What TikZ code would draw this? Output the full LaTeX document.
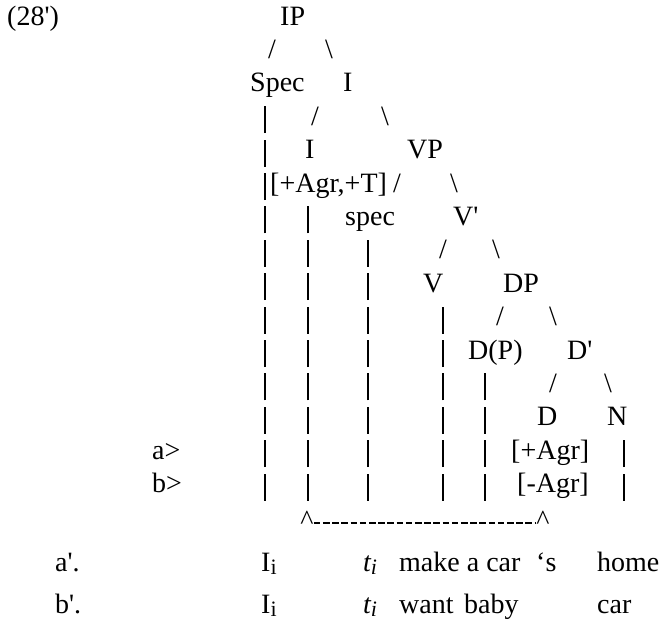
\documentclass[tikz,border=0pt]{standalone}
\usepackage{fontspec}
\setmainfont{Liberation Serif}
\usepackage{tikz}
\newcommand{\treefont}{\fontsize{28}{33}\selectfont}
\newcommand{\lsub}[1]{\raisebox{-3pt}{\fontsize{22}{22}\selectfont #1}}
\newcommand{\pipe}{\rule[-8pt]{1.5pt}{27pt}}
\tikzset{
  lbl/.style={anchor=base west,inner sep=0pt,font=\treefont},
  glyph/.style={anchor=base,inner sep=0pt,font=\treefont},
  link/.style={line width=1.4pt,dash pattern=on 6.6pt off 2.6pt}
}

\begin{document}
\begin{tikzpicture}[x=1pt,y=-1pt]
  \useasboundingbox (0,0) rectangle (662,621);
  % tree labels, one row every 33.4pt
  \node[lbl] (num) at (7,25) {(28\textquotesingle)};
  \node[lbl] (ip) at (280,25) {IP};
  \node[lbl] (spec) at (250,91.8) {Spec};
  \node[lbl] (ibar) at (343,91.8) {I};
  \node[lbl] (i) at (305,158.6) {I};
  \node[lbl] (vp) at (407,158.6) {VP};
  \node[lbl] (feat) at (270,192) {[+Agr,+T]};
  \node[lbl] (vspec) at (345,225.4) {spec};
  \node[lbl] (vbar) at (453,225.4) {V\textquotesingle};
  \node[lbl] (v) at (423,292.2) {V};
  \node[lbl] (dp) at (503,292.2) {DP};
  \node[lbl] (dpp) at (468,359) {D(P)};
  \node[lbl] (dbar) at (567,359) {D\textquotesingle};
  \node[lbl] (d) at (537,425.8) {D};
  \node[lbl] (n) at (607,425.8) {N};
  \node[lbl] (ma) at (152,459.2) {a>};
  \node[lbl] (agra) at (511,459.2) {[+Agr]};
  \node[lbl] (mb) at (152,492.6) {b>};
  \node[lbl] (agrb) at (517,492.6) {[-Agr]};
  % branches
  \foreach \x/\k in {272/1,315/3,397/5,443/7,500/9,553/11}
    \node[glyph] (l\k) at (\x,{25+33.4*\k}) {/};
  \foreach \x/\k in {329/1,385/3,454/5,496/7,553/9,608/11}
    \node[glyph] (r\k) at (\x,{25+33.4*\k}) {\textbackslash};
  \foreach \x/\a in {265/3,308/6,368/7,443/9,485/11,624/13}{
    \foreach \k in {\a,...,14}
      \node[glyph] (p\x-\k) at (\x,{25+33.4*\k}) {\pipe};
  }
  % movement link
  \node[glyph] (cl) at (307,529) {\textasciicircum};
  \node[glyph] (cr) at (543,529) {\textasciicircum};
  \draw[link] ([yshift=6pt]cl.base east) -- ([yshift=6pt]cr.base west);
  % glosses
  \node[lbl] (ga) at (55,571) {a\textquotesingle.};
  \node[lbl] (gai) at (261,571) {I\lsub{i}};
  \node[lbl] (gat) at (363,571) {\itshape t\lsub{i}};
  \node[lbl] (gam) at (399,571) {make a car};
  \node[lbl] (gas) at (536,571) {‘s};
  \node[lbl] (gah) at (597,571) {home};
  \node[lbl] (gb) at (55,613) {b\textquotesingle.};
  \node[lbl] (gbi) at (261,613) {I\lsub{i}};
  \node[lbl] (gbt) at (363,613) {\itshape t\lsub{i}};
  \node[lbl] (gbw) at (399,613) {want};
  \node[lbl] (gbb) at (464,613) {baby};
  \node[lbl] (gbc) at (597,613) {car};
\end{tikzpicture}
\end{document}
